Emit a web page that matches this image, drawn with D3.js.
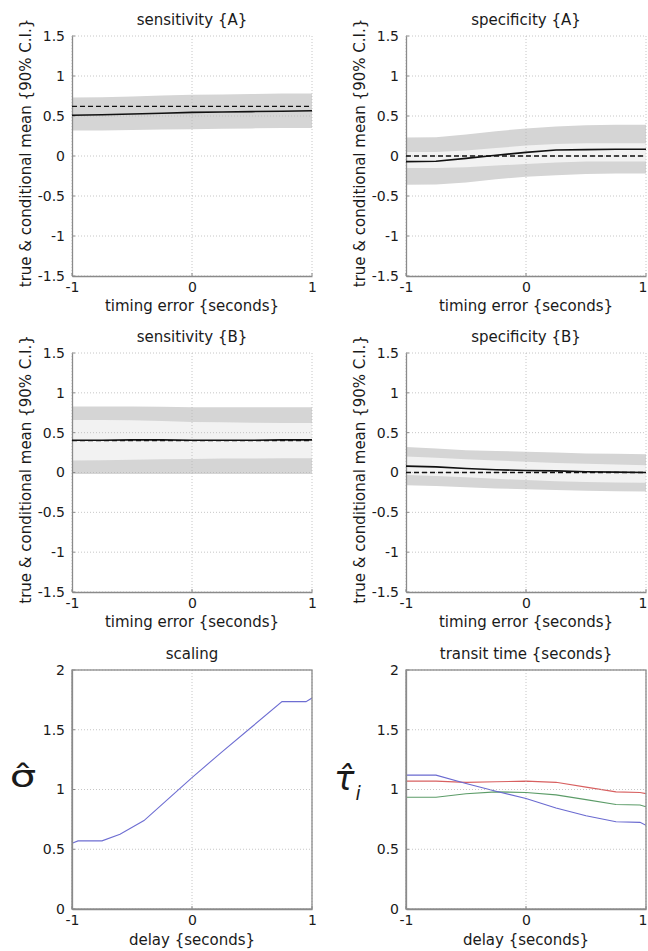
<!DOCTYPE html>
<html><head><meta charset="utf-8">
<script src="https://cdn.jsdelivr.net/npm/d3@7"></script>
<style>
body{margin:0;background:#fff}
svg{display:block}
text{font-family:"DejaVu Sans",sans-serif;fill:#1a1a1a}
</style>
</head><body>
<svg id="c" width="648" height="951"></svg>
<script>
// ---------- data ----------
const xTicks = [-1, 0, 1];
const xTickLabels = ["-1", "0", "1"];
const yTicksCI = [-1.5, -1, -0.5, 0, 0.5, 1, 1.5];
const yTickLabelsCI = ["-1.5", "-1", "-0.5", "0", "0.5", "1", "1.5"];
const yTicksB = [0, 0.5, 1, 1.5, 2];
const yTickLabelsB = ["0", "0.5", "1", "1.5", "2"];

const ciX = [-1, -0.75, -0.5, -0.25, 0, 0.25, 0.5, 0.75, 1];

// sensitivity {A}
const sensA_outerHi = [0.73, 0.735, 0.745, 0.755, 0.765, 0.77, 0.775, 0.78, 0.78];
const sensA_outerLo = [0.32, 0.32, 0.325, 0.33, 0.335, 0.34, 0.345, 0.35, 0.35];
const sensA_innerHi = null;
const sensA_innerLo = null;
const sensA_mean = [0.51, 0.515, 0.525, 0.535, 0.545, 0.55, 0.555, 0.56, 0.565];
const sensA_true = [0.62, 0.62, 0.62, 0.62, 0.62, 0.62, 0.62, 0.62, 0.62];

// specificity {A}
const specA_outerHi = [0.23, 0.235, 0.27, 0.31, 0.345, 0.37, 0.385, 0.39, 0.39];
const specA_innerHi = [0.05, 0.05, 0.07, 0.10, 0.13, 0.15, 0.16, 0.16, 0.16];
const specA_innerLo = [-0.15, -0.15, -0.14, -0.12, -0.10, -0.08, -0.07, -0.07, -0.07];
const specA_outerLo = [-0.36, -0.355, -0.33, -0.29, -0.26, -0.24, -0.225, -0.22, -0.22];
const specA_mean = [-0.07, -0.065, -0.03, 0.01, 0.045, 0.075, 0.08, 0.085, 0.085];
const specA_true = [0, 0, 0, 0, 0, 0, 0, 0, 0];

// sensitivity {B}
const sensB_outerHi = [0.83, 0.83, 0.83, 0.825, 0.82, 0.82, 0.82, 0.82, 0.82];
const sensB_innerHi = [0.66, 0.66, 0.655, 0.645, 0.635, 0.63, 0.625, 0.62, 0.62];
const sensB_innerLo = [0.15, 0.155, 0.16, 0.165, 0.17, 0.175, 0.175, 0.18, 0.18];
const sensB_outerLo = [-0.02, -0.02, -0.02, -0.02, -0.02, -0.02, -0.02, -0.02, -0.02];
const sensB_mean = [0.405, 0.405, 0.41, 0.41, 0.405, 0.405, 0.405, 0.41, 0.41];
const sensB_true = [0.40, 0.40, 0.40, 0.40, 0.40, 0.40, 0.40, 0.40, 0.40];

// specificity {B}
const specB_outerHi = [0.32, 0.30, 0.28, 0.27, 0.26, 0.25, 0.24, 0.235, 0.23];
const specB_innerHi = [0.20, 0.185, 0.165, 0.15, 0.135, 0.12, 0.11, 0.10, 0.09];
const specB_innerLo = [-0.03, -0.045, -0.06, -0.08, -0.095, -0.11, -0.12, -0.125, -0.13];
const specB_outerLo = [-0.16, -0.17, -0.185, -0.2, -0.21, -0.22, -0.23, -0.235, -0.24];
const specB_mean = [0.08, 0.07, 0.05, 0.035, 0.025, 0.02, 0.01, 0.005, 0.0];
const specB_true = [0, 0, 0, 0, 0, 0, 0, 0, 0];

// scaling
const scalingX = [-1, -0.95, -0.75, -0.6, -0.4, -0.2, 0, 0.25, 0.5, 0.75, 0.95, 1];
const scalingY = [0.55, 0.57, 0.57, 0.625, 0.74, 0.92, 1.1, 1.315, 1.525, 1.735, 1.735, 1.765];

// transit time
const transitX = [-1, -0.75, -0.5, -0.25, 0, 0.25, 0.5, 0.75, 0.95, 1];
const transitBlue = [1.12, 1.12, 1.05, 0.985, 0.925, 0.845, 0.78, 0.73, 0.725, 0.70];
const transitRed = [1.07, 1.07, 1.06, 1.065, 1.07, 1.06, 1.02, 0.98, 0.975, 0.965];
const transitGreen = [0.935, 0.935, 0.965, 0.98, 0.975, 0.955, 0.915, 0.875, 0.87, 0.855];

const titles = ["sensitivity {A}", "specificity {A}", "sensitivity {B}", "specificity {B}", "scaling", "transit time {seconds}"];
const ciYLabel = "true & conditional mean {90% C.I.}";
const ciXLabel = "timing error {seconds}";
const delayXLabel = "delay {seconds}";

// ---------- layout ----------
const cols = [[72, 312], [406, 646]];
const rows = [[36, 276], [353, 592], [670, 909]];
const svg = d3.select("#c");
const OUTER = "#d5d5d5", INNER = "#f2f2f2", GRID = "#b8b8b8", AXIS = "#8a8a8a";
const INK = "#1a1a1a";

let clipId = 0;
function frame(col, row, yDomain, yTicks, yLabels, box) {
  const [x0, x1] = cols[col], [y0, y1] = rows[row];
  const x = d3.scaleLinear().domain([-1, 1]).range([x0, x1]);
  const y = d3.scaleLinear().domain(yDomain).range([y1, y0]);
  const g = svg.append("g");
  const id = "clip" + (clipId++);
  svg.append("clipPath").attr("id", id).append("rect")
    .attr("x", x0).attr("y", y0).attr("width", x1 - x0).attr("height", y1 - y0);
  const plot = g.append("g").attr("clip-path", `url(#${id})`);
  return {x, y, g, plot, x0, x1, y0, y1, yTicks, yLabels, box};
}

function decorate(f) {
  const {x, y, g, x0, x1, y0, y1, yTicks, yLabels, box} = f;
  const grid = g.append("g");
  grid.selectAll("line.h").data(yTicks).join("line")
    .attr("x1", x0).attr("x2", x1).attr("y1", d => y(d)).attr("y2", d => y(d))
    .attr("stroke", GRID).attr("stroke-width", 0.8).attr("stroke-dasharray", "1,2");
  grid.selectAll("line.v").data(xTicks).join("line")
    .attr("y1", y0).attr("y2", y1).attr("x1", d => x(d)).attr("x2", d => x(d))
    .attr("stroke", GRID).attr("stroke-width", 0.8).attr("stroke-dasharray", "1,2");

  const ax = g.append("g").attr("transform", `translate(0,${y1})`)
    .call(d3.axisBottom(x).tickValues(xTicks).tickSize(0).tickSizeOuter(0).tickPadding(6)
      .tickFormat((d, i) => xTickLabels[i]));
  const ay = g.append("g").attr("transform", `translate(${x0},0)`)
    .call(d3.axisLeft(y).tickValues(yTicks).tickSize(0).tickSizeOuter(0).tickPadding(7)
      .tickFormat((d, i) => yLabels[i]));
  [ax, ay].forEach(a => {
    a.select(".domain").attr("stroke", AXIS).attr("stroke-width", 1.3);
    a.selectAll("text").attr("font-size", 14).attr("fill", INK)
      .attr("font-family", '"DejaVu Sans",sans-serif');
  });
  // keep the right-most x tick label inside the page
  ax.selectAll("text").filter(d => d === 1 && x1 > 640)
    .attr("text-anchor", "end").attr("x", 647 - x1);
  // small inward ticks
  g.append("g").selectAll("line").data(yTicks).join("line")
    .attr("x1", x0).attr("x2", x0 + 3).attr("y1", d => y(d)).attr("y2", d => y(d))
    .attr("stroke", AXIS).attr("stroke-width", 1);
  g.append("g").selectAll("line").data(xTicks).join("line")
    .attr("x1", d => x(d)).attr("x2", d => x(d)).attr("y1", y1).attr("y2", y1 - 3)
    .attr("stroke", AXIS).attr("stroke-width", 1);
  if (box) {
    g.append("rect").attr("x", x0).attr("y", y0).attr("width", x1 - x0).attr("height", y1 - y0)
      .attr("fill", "none").attr("stroke", AXIS).attr("stroke-width", 1.3);
  }
}

function title(f, t) {
  f.g.append("text").attr("x", (f.x0 + f.x1) / 2).attr("y", f.y0 - 11)
    .attr("text-anchor", "middle").attr("font-size", 15).text(t);
}
function xlabel(f, t, dy) {
  f.g.append("text").attr("x", (f.x0 + f.x1) / 2).attr("y", f.y1 + dy)
    .attr("text-anchor", "middle").attr("font-size", 15).text(t);
}

function ciPanel(col, row, t, outerLo, innerLo, innerHi, outerHi, mean, truth) {
  const f = frame(col, row, [-1.5, 1.5], yTicksCI, yTickLabelsCI, false);
  const {x, y, plot} = f;
  const idx = d3.range(ciX.length);
  const areaOuter = d3.area().x(i => x(ciX[i])).y0(i => y(outerLo[i])).y1(i => y(outerHi[i]));
  plot.append("path").datum(idx).attr("d", areaOuter).attr("fill", OUTER);
  if (innerLo && innerHi) {
    const areaInner = d3.area().x(i => x(ciX[i])).y0(i => y(innerLo[i])).y1(i => y(innerHi[i]));
    plot.append("path").datum(idx).attr("d", areaInner).attr("fill", INNER);
  }
  decorate(f);
  const line = arr => d3.line().x(i => x(ciX[i])).y(i => y(arr[i]));
  f.g.append("path").datum(idx).attr("d", line(truth)).attr("fill", "none")
    .attr("stroke", "#111").attr("stroke-width", 1.3).attr("stroke-dasharray", "5,3");
  f.g.append("path").datum(idx).attr("d", line(mean)).attr("fill", "none")
    .attr("stroke", "#111").attr("stroke-width", 1.6);
  title(f, t);
  xlabel(f, ciXLabel, 35);
  const cy = (f.y0 + f.y1) / 2 - 3;
  const lx = f.x0 - 41;
  f.g.append("text").attr("transform", `translate(${lx},${cy}) rotate(-90)`)
    .attr("text-anchor", "middle").attr("font-size", 15).text(ciYLabel);
  return f;
}

ciPanel(0, 0, titles[0], sensA_outerLo, sensA_innerLo, sensA_innerHi, sensA_outerHi, sensA_mean, sensA_true);
ciPanel(1, 0, titles[1], specA_outerLo, specA_innerLo, specA_innerHi, specA_outerHi, specA_mean, specA_true);
ciPanel(0, 1, titles[2], sensB_outerLo, sensB_innerLo, sensB_innerHi, sensB_outerHi, sensB_mean, sensB_true);
ciPanel(1, 1, titles[3], specB_outerLo, specB_innerLo, specB_innerHi, specB_outerHi, specB_mean, specB_true);

// scaling
{
  const f = frame(0, 2, [0, 2], yTicksB, yTickLabelsB, true);
  decorate(f);
  const idx = d3.range(scalingX.length);
  f.plot.append("path").datum(idx)
    .attr("d", d3.line().x(i => f.x(scalingX[i])).y(i => f.y(scalingY[i])))
    .attr("fill", "none").attr("stroke", "#6e6ed2").attr("stroke-width", 1.1);
  title(f, titles[4]);
  xlabel(f, delayXLabel, 36);
  f.g.append("text").attr("transform", "translate(23,787) scale(1.35,1)")
    .attr("text-anchor", "middle").attr("font-size", 31)
    .attr("font-family", '"DejaVu Serif",serif').text("σ\u0302");
}

// transit time
{
  const f = frame(1, 2, [0, 2], yTicksB, yTickLabelsB, true);
  decorate(f);
  const idx = d3.range(transitX.length);
  const series = [[transitRed, "#d86060"], [transitGreen, "#5c9c68"], [transitBlue, "#6a6ad0"]];
  series.forEach(([arr, c]) => {
    f.plot.append("path").datum(idx)
      .attr("d", d3.line().x(i => f.x(transitX[i])).y(i => f.y(arr[i])))
      .attr("fill", "none").attr("stroke", c).attr("stroke-width", 1.1);
  });
  title(f, titles[5]);
  xlabel(f, delayXLabel, 36);
  const t = f.g.append("text").attr("transform", "translate(334,790)")
    .attr("font-size", 34).attr("font-style", "italic")
    .attr("font-family", '"DejaVu Serif",serif');
  t.append("tspan").text("τ\u0302");
  t.append("tspan").attr("dy", 10).attr("dx", 1).attr("font-size", 19).text("i");
}
</script>
</body></html>
